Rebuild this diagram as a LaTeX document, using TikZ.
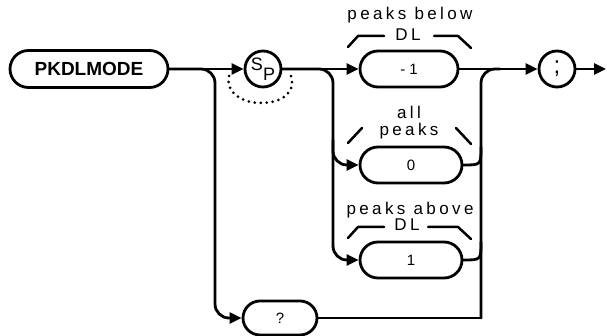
\documentclass[tikz,border=0pt]{standalone}
\usepackage{fontspec}
\setmainfont{Liberation Sans}
\newfontfamily\lblfont[LetterSpace=20]{Liberation Sans}
\usetikzlibrary{arrows.meta,shapes.misc}
\begin{document}
\begin{tikzpicture}[x=1pt,y=-1pt,
  line width=2.8pt, line cap=round, line join=round,
  term/.style={rounded rectangle, draw, inner sep=0pt, minimum height=36pt},
  circ/.style={circle, draw, inner sep=0pt, minimum size=36pt},
  arr/.style={-{Triangle[length=12pt,width=11pt]}},
  lbl/.style={font=\lblfont\fontsize{17}{17}\selectfont, inner sep=0pt},
  brk/.style={line width=2.5pt},
  val/.style={font=\fontsize{15}{15}\selectfont},
  dots/.style={line width=3pt, dash pattern=on 0pt off 6pt}
]
\useasboundingbox (0,0) rectangle (607,336);

% nodes
\node[term, minimum width=158pt, minimum height=37pt, font=\bfseries\fontsize{19}{19}\selectfont] (pk) at (89,69) {PKDLMODE};
\node[circ, font=\fontsize{18}{18}\selectfont] (sp) at (263,69) {\raisebox{5pt}{S}\raisebox{-5pt}{P}};
\node[term, val, minimum width=98pt] (m1) at (409,69) {- 1};
\node[term, val, minimum width=102pt] (z) at (411,165) {0};
\node[term, val, minimum width=102pt] (one) at (411,260) {1};
\node[term, val, minimum width=74pt, minimum height=34pt] (q) at (280,318) {?};
\node[circ, font=\fontsize{24}{24}\selectfont] (semi) at (557,69) {;};

% junction coordinates
\coordinate (j1) at (215,69);
\coordinate (j1b) at (215,318);
\coordinate (j2) at (333,69);
\coordinate (j2b) at (333,260);
\coordinate (j2z) at (333,140);
\coordinate (j2zc) at (333,165);
\coordinate (r1) at (481,318);
\coordinate (r2) at (481,69);
\coordinate (r3) at (500,69);
\coordinate (rz) at (481,147);
\coordinate (rzc) at (481,165);
\coordinate (rone) at (481,242);
\coordinate (ronec) at (481,260);
\coordinate (end) at (606,69);
\coordinate (dl) at (229,76);
\coordinate (dc1) at (222,112);
\coordinate (dc2) at (302,112);
\coordinate (dr) at (291,76);

% connectors
\draw[arr] (pk.east) -- (sp.west);
\draw[arr, rounded corners=14pt] (pk.east) -- (j1) -- (j1b) -- (q.west);
\draw[dots] (dl) .. controls (dc1) and (dc2) .. (dr);
\draw[arr] (sp.east) -- (m1.west);
\draw[arr, rounded corners=14pt] (sp.east) -- (j2) -- (j2b) -- (one.west);
\draw[arr, rounded corners=14pt] (j2z) -- (j2zc) -- (z.west);
\draw[arr] (m1.east) -- (semi.west);
\draw (q.east) -- (r1);
\draw[rounded corners=14pt] (r1) -- (r2) -- (r3);
\draw (z.east) .. controls (rzc) .. (rz);
\draw (one.east) .. controls (ronec) .. (rone);
\draw[arr] (semi.east) -- (end);

% labels
\node[lbl] (t1) at (410,15) {peaks below};
\node[lbl] (t1d) at (408,35) {DL};
\draw[brk] (348,47) -- (358,36) -- (384,36);
\draw[brk] (434,36) -- (458,36) -- (471,48);

\node[lbl, align=center] (t2) at (409,123) {all\\peaks};
\draw[brk] (348,143) -- (362,128);
\draw[brk] (456,128) -- (471,144);

\node[lbl] (t3) at (410,210) {peaks above};
\node[lbl] (t3d) at (407,225) {DL};
\draw[brk] (348,238) -- (358,227) -- (384,227);
\draw[brk] (428,227) -- (458,227) -- (471,239);
\end{tikzpicture}
\end{document}
